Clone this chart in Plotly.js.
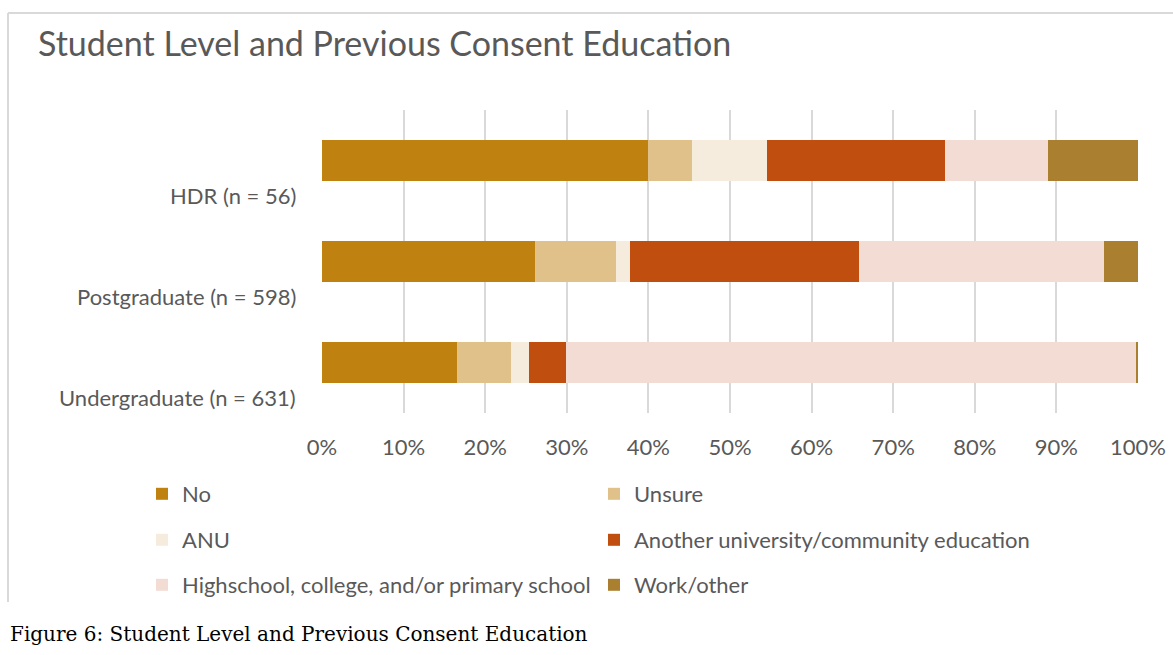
<!DOCTYPE html>
<html>
<head>
<meta charset="utf-8">
<script src="https://cdn.plot.ly/plotly-3.0.1.min.js"></script>
<style>
html,body{margin:0;padding:0;background:#fff;}
#chart{width:1173px;height:655px;}
</style>
</head>
<body>
<div id="chart"></div>
<script>
// Data (percent of responses per student level)
const categories = ["HDR (n = 56)", "Postgraduate (n = 598)", "Undergraduate (n = 631)"];
const seriesNames = ["No", "Unsure", "ANU", "Another university/community education", "Highschool, college, and/or primary school", "Work/other"];
const noVals        = [40.0, 26.1, 16.5];
const unsureVals    = [5.4, 9.9, 6.7];
const anuVals       = [9.1, 1.7, 2.2];
const anotherVals   = [21.8, 28.1, 4.5];
const highschoolVals= [12.7, 30.0, 69.9];
const workVals      = [11.0, 4.2, 0.2];
const xTickVals = [0,10,20,30,40,50,60,70,80,90,100];
const xTickText = ["0%","10%","20%","30%","40%","50%","60%","70%","80%","90%","100%"];
const title = "Student Level and Previous Consent Education";
const caption = "Figure 6: Student Level and Previous Consent Education";

const colors = ["#BF8211", "#E0C18A", "#F5ECDD", "#BF4E0F", "#F2DCD4", "#AA8030"];
const values = [noVals, unsureVals, anuVals, anotherVals, highschoolVals, workVals];
const legends = ["legend", "legend", "legend2", "legend2", "legend3", "legend3"];

const traces = values.map((v, i) => ({
  type: "bar",
  orientation: "h",
  name: seriesNames[i],
  y: categories,
  x: v,
  marker: {color: colors[i], line: {width: 0}},
  legend: legends[i],
  hoverinfo: "x+name"
}));

// Layout geometry
const W = 1173, H = 655;
const ml = 322, mr = 35, mt = 110, mb = 242;
const pw = W - ml - mr, ph = H - mt - mb;
const px2x = p => (p - ml) / pw;
const py2y = p => (H - mb - p) / ph;

const fam = "Lato, 'Open Sans', sans-serif";
const legFont = {family: fam, size: 22, color: "#595959"};
const legBase = {
  orientation: "h", xanchor: "left", yanchor: "middle",
  font: legFont, entrywidth: 407, entrywidthmode: "pixels",
  bgcolor: "rgba(0,0,0,0)", itemclick: false, itemdoubleclick: false,
  traceorder: "normal"
};

const annotations = categories.map(c => ({
  xref: "paper", yref: "y", x: 0, y: c, xanchor: "right", yanchor: "middle",
  xshift: -24, yshift: -35, showarrow: false, text: c,
  font: {family: fam, size: 22, color: "#595959"}
}));
annotations.push({
  xref: "paper", yref: "paper", x: px2x(8), y: py2y(634), xanchor: "left", yanchor: "middle",
  showarrow: false, text: caption,
  font: {family: "'DejaVu Serif', serif", size: 20, color: "#000000"}
});

const layout = {
  width: W, height: H,
  margin: {l: ml, r: mr, t: mt, b: mb, pad: 0},
  paper_bgcolor: "#ffffff", plot_bgcolor: "#ffffff",
  barmode: "stack", bargap: 0.592,
  title: {
    text: title, x: 38 / W, xanchor: "left",
    y: 1 - 44 / H, yanchor: "middle",
    font: {family: fam, size: 34, color: "#595959"}
  },
  xaxis: {
    range: [0, 100], tickvals: xTickVals, ticktext: xTickText,
    showgrid: true, gridcolor: "#D9D9D9", gridwidth: 2,
    zeroline: false, showline: false, ticks: "",
    tickfont: {family: fam, size: 22, color: "#595959"},
    ticklabelstandoff: 19, fixedrange: true
  },
  yaxis: {
    categoryorder: "array", categoryarray: categories, autorange: "reversed",
    showticklabels: false, showgrid: false, zeroline: false, showline: false, ticks: "",
    fixedrange: true
  },
  legend:  Object.assign({}, legBase, {x: px2x(142), y: py2y(494)}),
  legend2: Object.assign({}, legBase, {x: px2x(142), y: py2y(540)}),
  legend3: Object.assign({}, legBase, {x: px2x(142), y: py2y(585)}),
  annotations: annotations,
  shapes: [
    {type: "line", xref: "paper", yref: "paper", x0: px2x(8), x1: px2x(1173), y0: py2y(13), y1: py2y(13),
     line: {color: "#D9D9D9", width: 2}, layer: "below"},
    {type: "line", xref: "paper", yref: "paper", x0: px2x(8), x1: px2x(8), y0: py2y(13), y1: py2y(602),
     line: {color: "#D9D9D9", width: 2}, layer: "below"}
  ],
  showlegend: true
};

Plotly.newPlot("chart", traces, layout, {displayModeBar: false, staticPlot: true});
</script>
</body>
</html>
